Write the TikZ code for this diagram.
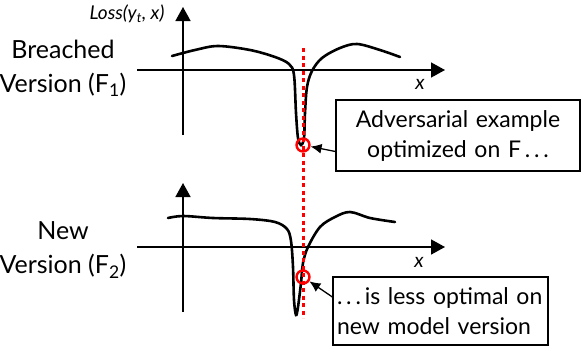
\documentclass[tikz,border=0pt]{standalone}
\usepackage{fontspec}
\setmainfont{Lato}
\usetikzlibrary{arrows.meta,
positioning}

\begin{document}
\begin{tikzpicture}[
    x=1pt,
    y=-1pt,
    axis/.style={
        line width=1.6pt,
        -{Triangle[length=14pt,width=15pt]}
    },
    lossCurve/.style={
        line width=2.6pt,
        line cap=round
    },
    probeLine/.style={
        red,
        line width=3pt,
        dash pattern=on 4pt off 3.5pt
    },
    hitMark/.style={
        circle,
        draw=red,
        line width=2.4pt,
        minimum size=13pt,
        inner sep=0pt
    },
    callout/.style={
        draw,
        line width=1.2pt,
        fill=white,
        font=\fontsize{23}{30}\selectfont,
        inner sep=4pt
    },
    pointer/.style={
        -{Latex[length=11pt,width=10pt]},
        line width=1.3pt
    },
    versionLabel/.style={
        align=center,
        font=\fontsize{25}{34}\selectfont
    },
    axisLabel/.style={
        font=\fontsize{20}{22}\selectfont\itshape
    }
]

\useasboundingbox (0,0) rectangle (581,346);

%------------------------------------------------------------------------------
% Version labels
%------------------------------------------------------------------------------

\node[versionLabel] (breachedLabel) at (63,68)
    {Breached\\Version (F\textsubscript{1})};

\node[versionLabel] (newLabel) at (63,250)
    {New\\Version (F\textsubscript{2})};

%------------------------------------------------------------------------------
% Axes
%------------------------------------------------------------------------------

\draw[axis] (183,135) -- (183,7);
\draw[axis] (137,70) -- (445,70);

\draw[axis] (183,312) -- (183,183);
\draw[axis] (137,247) -- (445,247);

\node[axisLabel, font=\fontsize{19}{22}\selectfont\itshape] (lossLabel) at (127,14)
    {Loss(y\textsubscript{t}, x)};
\node[axisLabel] (topX) at (420,84) {x};
\node[axisLabel] (bottomX) at (419,262) {x};

%------------------------------------------------------------------------------
% Loss curves
%------------------------------------------------------------------------------

\draw[lossCurve] plot[smooth, tension=0.55] coordinates {
    (172,56) (195,50) (218,46) (250,50) (275,57) (289,64) (294,75)
    (296,113) (298,138) (301,145) (304,138) (305,113) (307,87)
    (312,71) (322,58) (340,48) (357,44) (380,50) (400,57)};

\draw[lossCurve] plot[smooth, tension=0.55] coordinates {
    (168,218) (183,216) (213,218) (250,219) (275,222) (287,229)
    (291,241) (293,267) (294,300) (296,315) (298,307) (301,283)
    (303,263) (308,247) (320,227) (335,217) (350,212) (370,218)
    (395,222)};

%------------------------------------------------------------------------------
% Adversarial point
%------------------------------------------------------------------------------

\draw[probeLine] (303,48) -- (303,318);

\node[hitMark] (topHit) at (303,145) {};
\node[hitMark] (bottomHit) at (303,277) {};

%------------------------------------------------------------------------------
% Callouts
%------------------------------------------------------------------------------

\node[
    callout,
    text width=236pt,
    minimum height=71pt,
    align=center
] (craftNote) at (458,135.5)
{
    Adversarial example\\
    optimized on F\,.\,.\,.
};

\node[
    callout,
    text width=207pt,
    minimum height=68pt,
    align=left
] (transferNote) at (440.5,311)
{
    .\,.\,.\,is less optimal on\\
    new model version
};

\draw[pointer] ([yshift=-16pt]craftNote.west) -- (topHit);
\draw[pointer] ([yshift=14pt]transferNote.west) -- (bottomHit);

\end{tikzpicture}
\end{document}
